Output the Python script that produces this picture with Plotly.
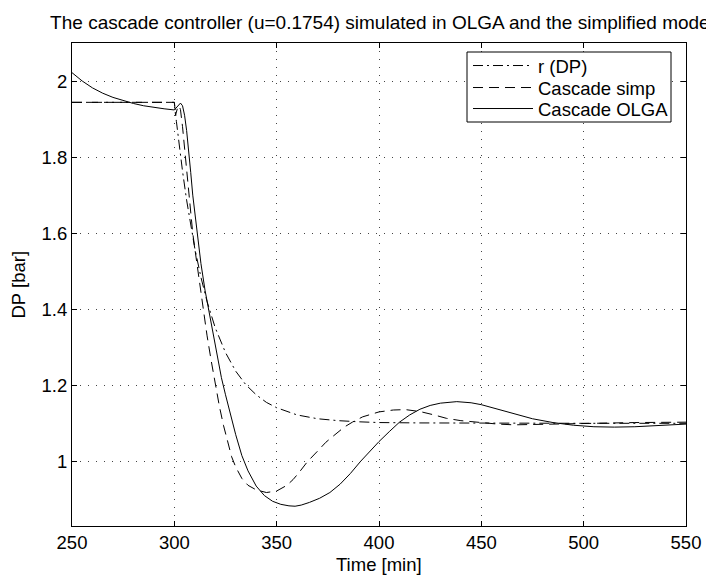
import plotly.graph_objects as go

# ---- data ----
t_ref = [250, 300, 301, 302, 304, 306, 308, 310, 313, 316, 320, 325, 330, 335, 340,
         345, 350, 360, 370, 380, 390, 400, 420, 450, 500, 550]
r_dp = [1.944, 1.944, 1.894, 1.848, 1.763, 1.687, 1.620, 1.560, 1.484, 1.420, 1.351,
        1.286, 1.237, 1.201, 1.175, 1.155, 1.141, 1.122, 1.112, 1.107, 1.104, 1.102,
        1.101, 1.100, 1.100, 1.100]

t_simp = [250, 300, 300.6, 301.5, 302.3, 303, 304, 305, 306, 307, 308, 309, 310,
          312, 314, 316, 318, 320, 322, 324, 326, 328, 330,
          333, 336, 340, 345, 350, 355, 358, 361, 365, 370,
          374, 378, 383, 387, 392, 400, 407, 413, 420, 427,
          433, 440, 449, 458, 466, 475, 482, 500, 525, 550]
cascade_simp = [1.944, 1.944, 1.910, 1.928, 1.935, 1.925, 1.88, 1.82, 1.76, 1.705, 1.65, 1.60, 1.56,
                1.48, 1.40, 1.33, 1.265, 1.20, 1.145, 1.095, 1.055, 1.012, 0.985,
                0.955, 0.937, 0.925, 0.918, 0.922, 0.937, 0.952, 0.971, 0.999, 1.027,
                1.050, 1.068, 1.090, 1.103, 1.117, 1.130, 1.135, 1.136, 1.131, 1.122,
                1.113, 1.107, 1.102, 1.098, 1.096, 1.097, 1.098, 1.100, 1.102, 1.103]

t_olga = [250, 255, 260, 265, 270, 275, 280, 285, 290, 295, 300,
          301, 302, 303, 304, 305, 306, 307, 308, 309, 310, 311,
          313, 315, 317, 319, 321, 323, 325, 327,
          330, 333, 336, 340, 344, 348, 352, 356, 359, 362,
          366, 371, 376, 381, 386, 391, 396, 400, 405, 410,
          415, 420, 425, 430, 438, 445, 450, 457, 465, 475,
          485, 495, 505, 515, 525, 535, 550]
cascade_olga = [2.022, 2.000, 1.982, 1.968, 1.957, 1.948, 1.941, 1.935, 1.930, 1.927, 1.924,
                1.930, 1.938, 1.942, 1.935, 1.91, 1.87, 1.82, 1.76, 1.70, 1.655, 1.60,
                1.52, 1.45, 1.39, 1.33, 1.27, 1.22, 1.175, 1.13,
                1.07, 1.015, 0.975, 0.935, 0.910, 0.895, 0.887, 0.883, 0.882, 0.885,
                0.892, 0.903, 0.918, 0.940, 0.968, 1.000, 1.030, 1.052, 1.078, 1.103,
                1.122, 1.137, 1.147, 1.153, 1.157, 1.154, 1.149, 1.139, 1.126, 1.112,
                1.102, 1.095, 1.091, 1.090, 1.091, 1.094, 1.098]

x_ticks = [250, 300, 350, 400, 450, 500, 550]
y_ticks = [1.0, 1.2, 1.4, 1.6, 1.8, 2.0]
y_tick_labels = ["1", "1.2", "1.4", "1.6", "1.8", "2"]

title_text = "The cascade controller (u=0.1754) simulated in OLGA and the simplified model"
FONT = "Liberation Sans, Arial, Helvetica, sans-serif"
FS = 18.5

# plot-area geometry in pixels (for placing legend / labels)
L, R, T, B = 72, 686, 43, 526
PW, PH = R - L, B - T


def px_x(p):
    return (p - L) / PW


def px_y(p):
    return (B - p) / PH


fig = go.Figure()
fig.add_trace(go.Scatter(x=t_ref, y=r_dp, mode="lines", name="r (DP)", legend="legend",
                         line=dict(color="black", width=1, dash="10px,4px,2px,4px")))
fig.add_trace(go.Scatter(x=t_simp, y=cascade_simp, mode="lines", name="Cascade simp",
                         legend="legend2",
                         line=dict(color="black", width=1, dash="10px,6px")))
fig.add_trace(go.Scatter(x=t_olga, y=cascade_olga, mode="lines", name="Cascade OLGA",
                         legend="legend3",
                         line=dict(color="black", width=1)))

axis_common = dict(
    showline=True, linecolor="black", linewidth=1, mirror="ticks",
    ticks="inside", ticklen=5, tickcolor="black", tickwidth=1,
    showgrid=True, gridcolor="#444444", gridwidth=1, griddash="1px,7px",
    zeroline=False, tickfont=dict(family=FONT, size=FS, color="black"),
)

leg_common = dict(xanchor="left", yanchor="top", bgcolor="rgba(0,0,0,0)",
                  borderwidth=0, font=dict(family=FONT, size=FS, color="black"),
                  itemwidth=60)
leg_left = px_x(468)
row_centers = [67, 89, 110]

fig.update_layout(
    width=706, height=576,
    margin=dict(l=L, r=706 - R, t=T, b=576 - B, autoexpand=False),
    paper_bgcolor="white", plot_bgcolor="white",
    font=dict(family=FONT, size=FS, color="black"),
    title=dict(text=title_text, x=px_x(382), xref="paper", xanchor="center",
               y=1 - 22 / 576, yref="container", yanchor="middle",
               font=dict(family=FONT, size=19, color="black")),
    xaxis=dict(range=[250, 550], tickvals=x_ticks, **axis_common),
    yaxis=dict(range=[0.83, 2.1], tickvals=y_ticks, ticktext=y_tick_labels, **axis_common),
    showlegend=True,
    legend=dict(x=leg_left, y=px_y(row_centers[0] - 20), **leg_common),
    legend2=dict(x=leg_left, y=px_y(row_centers[1] - 20), **leg_common),
    legend3=dict(x=leg_left, y=px_y(row_centers[2] - 20), **leg_common),
    shapes=[dict(type="rect", xref="paper", yref="paper",
                 x0=px_x(467), x1=px_x(671), y0=px_y(122), y1=px_y(52),
                 line=dict(color="black", width=1), fillcolor="white", layer="above")],
    annotations=[
        dict(text="Time [min]", x=0.5, xref="paper", y=px_y(564), yref="paper",
             xanchor="center", yanchor="middle", showarrow=False,
             font=dict(family=FONT, size=FS, color="black")),
        dict(text="DP [bar]", x=px_x(18), xref="paper", y=0.5, yref="paper",
             xanchor="center", yanchor="middle", showarrow=False, textangle=-90,
             font=dict(family=FONT, size=FS, color="black")),
    ],
)

fig.write_html("out.html")
